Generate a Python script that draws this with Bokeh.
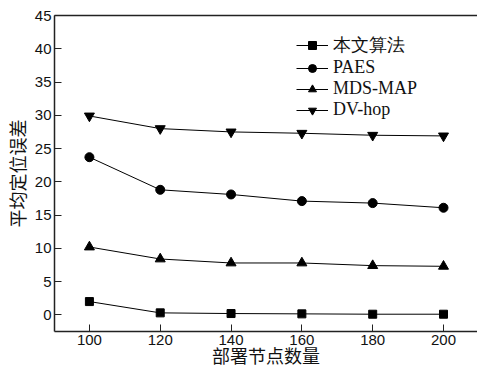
from bokeh.plotting import figure
from bokeh.models import LinearAxis, FixedTicker, Legend, LegendItem, Range1d
from bokeh.embed import file_html
from bokeh.resources import INLINE

nodes = [100, 120, 140, 160, 180, 200]
ours = [2.0, 0.3, 0.2, 0.15, 0.1, 0.1]
paes = [23.7, 18.8, 18.1, 17.1, 16.8, 16.1]
mds_map = [10.2, 8.4, 7.8, 7.8, 7.4, 7.3]
dv_hop = [29.9, 28.0, 27.5, 27.3, 27.0, 26.9]
series_names = ["本文算法", "PAES", "MDS-MAP", "DV-hop"]
y_ticks = [0, 5, 10, 15, 20, 25, 30, 35, 40, 45]
x_ticks = [100, 120, 140, 160, 180, 200]

p = figure(width=477, height=371, output_backend="svg", toolbar_location=None,
           x_range=Range1d(90.14, 209.6), y_range=Range1d(-2.5, 45),
           min_border_left=53, min_border_right=0, min_border_top=15, min_border_bottom=40)
p.outline_line_color = None
p.grid.visible = False
p.background_fill_color = "white"

for ax in (p.xaxis[0], p.yaxis[0]):
    ax.axis_line_color = "#222222"
    ax.axis_line_width = 1.5
    ax.major_tick_in = 7
    ax.major_tick_out = 0
    ax.major_tick_line_color = "#222222"
    ax.minor_tick_line_color = None
    ax.major_label_text_font = "Liberation Sans"
    ax.major_label_text_font_size = "15px"
    ax.major_label_text_color = "#111111"
    ax.axis_label_text_font = "Noto Sans CJK SC"
    ax.axis_label_text_font_size = "18px"
    ax.axis_label_text_font_style = "normal"
    ax.axis_label_text_color = "#111111"

p.xaxis[0].ticker = FixedTicker(ticks=x_ticks)
p.yaxis[0].ticker = FixedTicker(ticks=y_ticks)
p.xaxis[0].axis_label = "部署节点数量"
p.yaxis[0].axis_label = "平均定位误差"
p.xaxis[0].major_label_standoff = 3
p.xaxis[0].axis_label_standoff = -6
p.yaxis[0].major_label_standoff = 3
p.yaxis[0].axis_label_standoff = 2

top = LinearAxis(ticker=FixedTicker(ticks=[]), axis_line_color="#222222", axis_line_width=1.5,
                 major_tick_line_color=None, minor_tick_line_color=None)
p.add_layout(top, "above")

items = []
specs = [(ours, "square", 8), (paes, "circle", 9), (mds_map, "triangle", 10), (dv_hop, "inverted_triangle", 10)]
for name, (vals, marker, size) in zip(series_names, specs):
    l = p.line(nodes, vals, line_color="black", line_width=1)
    s = p.scatter(nodes, vals, marker=marker, size=size, fill_color="black", line_color="black")
    items.append(LegendItem(label=name, renderers=[l, s]))

legend = Legend(items=items, location=(242, 211), border_line_color=None,
                background_fill_alpha=0, padding=0, spacing=0, margin=0,
                glyph_width=32, glyph_height=20, label_height=20, label_standoff=5,
                label_text_font="Liberation Serif", label_text_font_size="18px",
                label_text_color="#111111")
p.add_layout(legend, "center")

open("out.html", "w").write(file_html(p, INLINE))
